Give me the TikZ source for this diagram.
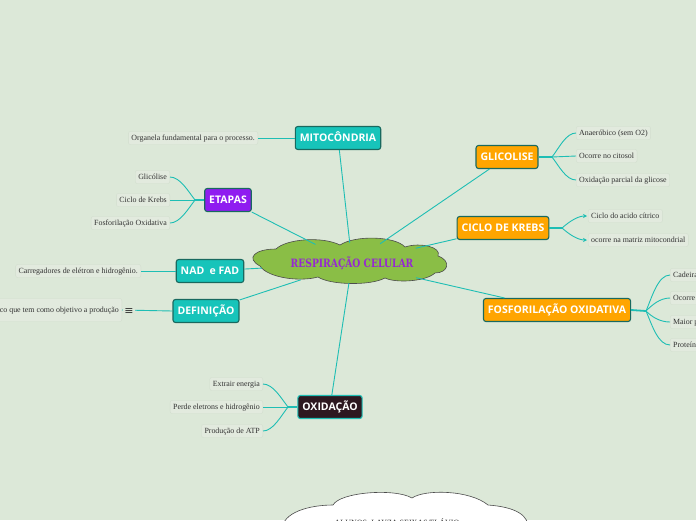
\documentclass[tikz,border=0pt]{standalone}
\usepackage{fontspec}
\setmainfont{Liberation Serif}
\newfontfamily\boxfont{Open Sans}
\newfontfamily\titlefont[FakeStretch=0.8]{DejaVu Serif}
\newfontfamily\symfont{DejaVu Sans}
\usetikzlibrary{shapes.geometric,arrows.meta}
\definecolor{bg}{RGB}{220,232,216}
\definecolor{leafbg}{RGB}{226,234,222}
\definecolor{leafborder}{RGB}{210,222,206}
\definecolor{leaftext}{RGB}{50,50,50}
\definecolor{conn}{RGB}{30,190,180}
\definecolor{tealfill}{RGB}{23,196,186}
\definecolor{boxborder}{RGB}{25,105,95}
\definecolor{purp}{RGB}{143,28,240}
\definecolor{orng}{RGB}{255,165,0}
\definecolor{oxd}{RGB}{45,24,32}
\definecolor{cloudg}{RGB}{138,190,70}
\definecolor{titlecol}{RGB}{150,40,210}
\tikzset{
  tb/.style={draw=boxborder, line width=1.1pt, rounded corners=2.5pt, text=white,
    font=\boxfont\bfseries\fontsize{10.5}{12}\selectfont, inner xsep=4.5pt,
    minimum height=23pt, text height=8pt, text depth=0.5pt},
  leaf/.style={fill=leafbg, draw=leafborder, line width=0.4pt, rounded corners=2pt,
    font=\fontsize{7.9}{9}\selectfont, text=leaftext, inner xsep=3pt, inner ysep=3pt,
    text height=5.5pt, text depth=1.5pt},
  conn/.style={draw=conn, line width=0.9pt},
  stem/.style={draw=conn, line width=1.8pt},
  arr/.style={draw=conn, line width=0.9pt, -{Stealth[length=4pt,width=4pt]}, shorten >=1pt}
}
\begin{document}
\begin{tikzpicture}[x=1pt,y=-1pt]
\useasboundingbox (0,0) rectangle (696,520);
\clip (0,0) rectangle (696,520);
\fill[bg] (0,0) rectangle (696,520);

% central cloud
\fill[cloudg, draw=black!70, line width=0.6pt]
  (260,266) .. controls (245,258) and (255,249) .. (276,249)
  .. controls (286,239) and (322,236) .. (340,245)
  .. controls (355,235) and (395,236) .. (405,247)
  .. controls (420,242) and (442,247) .. (438,256)
  .. controls (452,261) and (448,273) .. (435,273)
  .. controls (425,282) and (395,283) .. (385,278)
  .. controls (370,286) and (330,285) .. (318,277)
  .. controls (300,282) and (268,278) .. (260,266) -- cycle;
\node[ellipse, minimum width=186pt, minimum height=40pt, inner sep=0pt,
  text=titlecol, font=\titlefont\bfseries\fontsize{11.5}{14}\selectfont] (root) at (352,263) {RESPIRAÇÃO CELULAR};

% bottom cloud
\fill[white, draw=black!70, line width=0.6pt]
  (282,530) .. controls (282,512) and (310,505) .. (333,505)
  .. controls (340,492) and (395,488) .. (412,498)
  .. controls (425,489) and (470,490) .. (488,505)
  .. controls (515,507) and (530,515) .. (528,530) -- (528,545) -- (282,545) -- cycle;
\node[font=\fontsize{8}{9}\selectfont, text=black!85, inner sep=0pt] (alunos) at (397,522) {ALUNOS: LAYZA SEIXAS/FLÁVIO};

% main boxes
\node[tb, fill=tealfill] (mito) at (338,138) {MITOCÔNDRIA};
\node[tb, fill=purp] (etapas) at (228,200) {ETAPAS};
\node[tb, fill=tealfill] (nad) at (210,271) {NAD\ \ e FAD};
\node[tb, fill=tealfill] (defin) at (206,311) {DEFINIÇÃO};
\node[tb, fill=oxd, draw=conn] (oxid) at (330,407) {OXIDAÇÃO};
\node[tb, fill=orng] (glic) at (507,157) {GLICOLISE};
\node[tb, fill=orng] (krebs) at (503,228) {CICLO DE KREBS};
\node[tb, fill=orng] (fosf) at (557,310) {FOSFORILAÇÃO OXIDATIVA};

% main connectors
\foreach \n in {mito,etapas,nad,defin,oxid,glic,krebs,fosf}
  \draw[conn] (\n) -- (root);

% leaves
\node[leaf, anchor=east] (l1) at (258,138) {Organela fundamental para o processo.};
\node[leaf, anchor=east] (e1) at (170,177) {Glicólise};
\node[leaf, anchor=east] (e2) at (170,200) {Ciclo de Krebs};
\node[leaf, anchor=east] (e3) at (170,223) {Fosforilação Oxidativa};
\node[leaf, anchor=east] (n1) at (141,271) {Carregadores de elétron e hidrogênio.};
\node[leaf, anchor=east, minimum height=23pt] (d1) at (122,310) {Processo bioquímico que tem como objetivo a produção};
\node[leaf, anchor=east] (o1) at (263,384) {Extrair energia};
\node[leaf, anchor=east] (o2) at (263,407) {Perde eletrons e hidrogênio};
\node[leaf, anchor=east] (o3) at (263,431) {Produção de ATP};
\node[leaf, anchor=west] (g1) at (576,133) {Anaeróbico (sem O2)};
\node[leaf, anchor=west] (g2) at (576,156) {Ocorre no citosol};
\node[leaf, anchor=west] (g3) at (576,180) {Oxidação parcial da glicose};
\node[leaf, anchor=west] (k1) at (588,216) {Ciclo do acido cítrico};
\node[leaf, anchor=west] (k2) at (588,240) {ocorre na matriz mitocondrial};
\node[leaf, anchor=west] (f1) at (670,275) {Cadeira transportadora de elétrons};
\node[leaf, anchor=west] (f2) at (670,298) {Ocorre nas cristas mitocondriais};
\node[leaf, anchor=west] (f3) at (670,322) {Maior produção de ATP};
\node[leaf, anchor=west] (f4) at (670,345) {Proteínas transportadoras};

% leaf connectors
\draw[conn] (l1.east) -- (mito.west);
\draw[conn] (n1.east) -- (nad.west);
\draw[conn] (d1.east) -- (defin.west);
\node[fill=bg, inner sep=1pt, text=black!80, font=\symfont\fontsize{11}{11}\selectfont] (dicon) at (129,312) {≡};

\coordinate (eb) at (195,200);
\draw[stem] (etapas.west) -- (eb);
\draw[conn] (eb) .. controls +(-7,-9) and +(10,0) .. (e1.east);
\draw[conn] (eb) -- (e2.east);
\draw[conn] (eb) .. controls +(-7,9) and +(10,0) .. (e3.east);

\coordinate (ob) at (288,407);
\draw[stem] (oxid.west) -- (ob);
\draw[conn] (ob) .. controls +(-7,-9) and +(10,0) .. (o1.east);
\draw[conn] (ob) -- (o2.east);
\draw[conn] (ob) .. controls +(-7,9) and +(10,0) .. (o3.east);

\coordinate (gb) at (552,157);
\draw[stem] (glic.east) -- (gb);
\draw[conn] (gb) .. controls +(7,-9) and +(-10,0) .. (g1.west);
\draw[conn] (gb) -- (g2.west);
\draw[conn] (gb) .. controls +(7,9) and +(-10,0) .. (g3.west);

\coordinate (kb) at (562,228);
\draw[stem] (krebs.east) -- (kb);
\draw[arr] (kb) .. controls +(8,-7) and +(-10,0) .. (k1.west);
\draw[arr] (kb) .. controls +(8,7) and +(-10,0) .. (k2.west);

\coordinate (fb) at (646,311);
\draw[stem] (fosf.east) -- (fb);
\draw[conn] (fb) .. controls +(6,-14) and +(-12,0) .. (f1.west);
\draw[conn] (fb) .. controls +(6,-6) and +(-10,0) .. (f2.west);
\draw[conn] (fb) .. controls +(6,6) and +(-10,0) .. (f3.west);
\draw[conn] (fb) .. controls +(6,14) and +(-12,0) .. (f4.west);
\end{tikzpicture}
\end{document}
